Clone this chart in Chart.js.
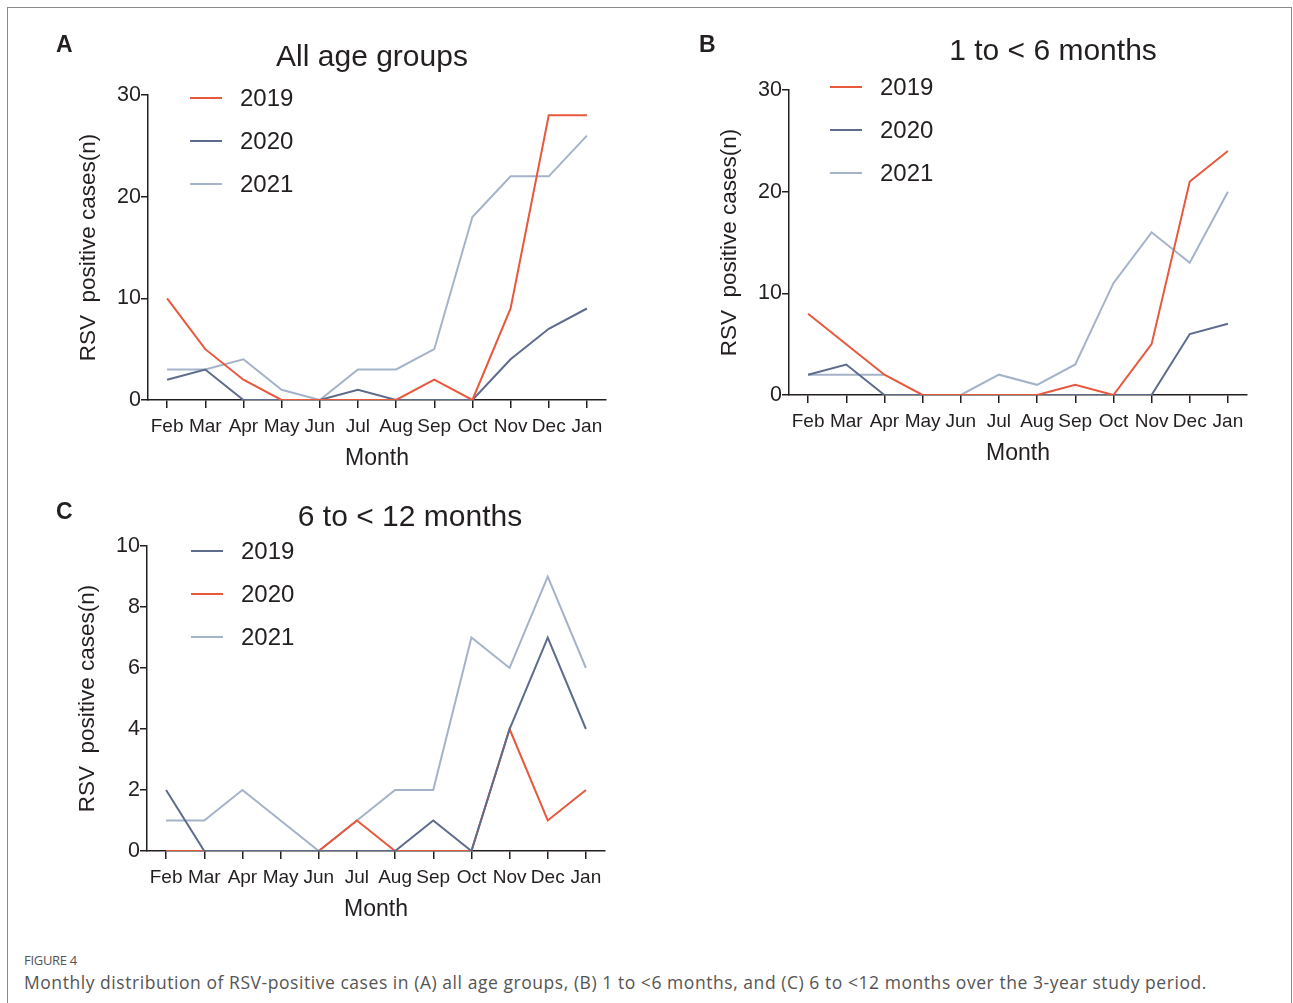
<!DOCTYPE html>
<html>
<head>
<meta charset="utf-8">
<script src="https://cdn.jsdelivr.net/npm/chart.js@4.4.1/dist/chart.umd.min.js"></script>
<style>
  body { margin: 0; background: #fff; }
  #frame { position: absolute; left: 7px; top: 7px; width: 1283px; height: 1010px; border: 1px solid #8a8a8a; border-bottom: none; }
  canvas { position: absolute; }
  #chartA { left: 0; top: 10px; }
  #chartB { left: 641px; top: 5px; }
  #chartC { left: -1px; top: 461px; }
  .fig { position: absolute; left: 24px; font-family: "Open Sans", sans-serif; color: #555; }
  #figLabel { top: 951px; font-size: 13px; letter-spacing: -0.3px; }
  #caption { top: 970px; font-size: 17.5px; letter-spacing: 0.55px; }
</style>
</head>
<body>
<div id="frame"></div>
<canvas id="chartA" width="640" height="470"></canvas>
<canvas id="chartB" width="640" height="470"></canvas>
<canvas id="chartC" width="640" height="470"></canvas>
<div class="fig" id="figLabel">FIGURE 4</div>
<div class="fig" id="caption">Monthly distribution of RSV-positive cases in (A) all age groups, (B) 1 to &lt;6 months, and (C) 6 to &lt;12 months over the 3-year study period.</div>
<script>
const months = ['Feb', 'Mar', 'Apr', 'May', 'Jun', 'Jul', 'Aug', 'Sep', 'Oct', 'Nov', 'Dec', 'Jan'];
const years = ['2019', '2020', '2021'];

// A: all age groups
const allAges2019 = [10, 5, 2, 0, 0, 0, 0, 2, 0, 9, 28, 28];
const allAges2020 = [2, 3, 0, 0, 0, 1, 0, 0, 0, 4, 7, 9];
const allAges2021 = [3, 3, 4, 1, 0, 3, 3, 5, 18, 22, 22, 26];

// B: 1 to <6 months
const young2019 = [8, 5, 2, 0, 0, 0, 0, 1, 0, 5, 21, 24];
const young2020 = [2, 3, 0, 0, 0, 0, 0, 0, 0, 0, 6, 7];
const young2021 = [2, 2, 2, null, 0, 2, 1, 3, 11, 16, 13, 20];

// C: 6 to <12 months
const older2019 = [2, 0, 0, 0, 0, 0, 0, 1, 0, 4, 7, 4];
const older2020 = [0, 0, 0, 0, 0, 1, 0, 0, 0, 4, 1, 2];
const older2021 = [1, 1, 2, 1, 0, 1, 2, 2, 7, 6, 9, 6];

const ticks30 = [0, 10, 20, 30];
const ticks10 = [0, 2, 4, 6, 8, 10];

const RED = '#e8583c';
const DARK = '#5d6c8c';
const LIGHT = '#a4b3c9';
const INK = '#231f20';
const FONT = '"Liberation Sans", Arial, sans-serif';

// panel letter, title and legend drawn onto the canvas
const panelDecor = {
    id: 'panelDecor',
    afterDraw(chart, args, opts) {
        const ctx = chart.ctx;
        ctx.save();
        ctx.fillStyle = INK;
        ctx.textBaseline = 'middle';
        ctx.font = 'bold 23px ' + FONT;
        ctx.textAlign = 'left';
        ctx.fillText(opts.letter, opts.letterX, opts.letterY);
        ctx.font = '30px ' + FONT;
        ctx.textAlign = 'center';
        ctx.fillText(opts.title, opts.titleX, opts.titleY);
        ctx.font = '24px ' + FONT;
        ctx.textAlign = 'left';
        chart.data.datasets.forEach((ds, i) => {
            const y = opts.legendY + i * 43;
            ctx.strokeStyle = ds.borderColor;
            ctx.lineWidth = 2;
            ctx.beginPath();
            ctx.moveTo(opts.legendX, y);
            ctx.lineTo(opts.legendX + 32, y);
            ctx.stroke();
            ctx.fillStyle = INK;
            ctx.fillText(ds.label, opts.legendX + 50, y + 1);
        });
        ctx.restore();
    }
};

function makeChart(id, series, colors, yMax, yTicks, decor) {
    const ctx = document.getElementById(id).getContext('2d');
    return new Chart(ctx, {
        type: 'line',
        data: {
            labels: months,
            datasets: series.map((values, i) => ({
                label: years[i],
                data: values,
                borderColor: colors[i],
                borderWidth: 2,
                pointRadius: 0,
                tension: 0,
                spanGaps: false,
                fill: false
            }))
        },
        options: {
            responsive: false,
            animation: false,
            events: [],
            layout: { padding: { left: 0, top: 85, right: 34, bottom: 0 } },
            plugins: {
                legend: { display: false },
                tooltip: { enabled: false },
                panelDecor: decor
            },
            scales: {
                x: {
                    offset: true,
                    grid: { offset: false, drawOnChartArea: false, drawTicks: true, tickLength: 8, tickColor: INK, lineWidth: 1.5 },
                    border: { color: INK, width: 1.5 },
                    ticks: { color: INK, font: { family: FONT, size: 19 }, padding: 7, maxRotation: 0, autoSkip: false },
                    title: { display: true, text: 'Month', color: INK, font: { family: FONT, size: 23 }, padding: { top: 0, bottom: 8 } },
                    afterFit: s => { s.height = 80; }
                },
                y: {
                    min: 0,
                    max: yMax,
                    afterBuildTicks: s => { s.ticks = yTicks.map(v => ({ value: v })); },
                    grid: { drawOnChartArea: false, drawTicks: true, tickLength: 7, tickColor: INK, lineWidth: 1.5 },
                    border: { color: INK, width: 1.5 },
                    ticks: { color: INK, font: { family: FONT, size: 21.5 }, padding: 0 },
                    title: { display: true, text: 'RSV  positive cases(n)', color: INK, font: { family: FONT, size: 22.5 }, padding: { top: 75, bottom: 0 } },
                    afterFit: s => { s.width = 148; }
                }
            }
        },
        plugins: [panelDecor]
    });
}

makeChart('chartA', [allAges2019, allAges2020, allAges2021], [RED, DARK, LIGHT], 30, ticks30,
    { letter: 'A', letterX: 56, letterY: 36, title: 'All age groups', titleX: 372, titleY: 48, legendX: 190, legendY: 88 });
makeChart('chartB', [young2019, young2020, young2021], [RED, DARK, LIGHT], 30, ticks30,
    { letter: 'B', letterX: 58, letterY: 41, title: '1 to < 6 months', titleX: 412, titleY: 47, legendX: 189, legendY: 82 });
makeChart('chartC', [older2019, older2020, older2021], [DARK, RED, LIGHT], 10, ticks10,
    { letter: 'C', letterX: 57, letterY: 52, title: '6 to < 12 months', titleX: 411, titleY: 57, legendX: 192, legendY: 90 });
</script>
</body>
</html>
